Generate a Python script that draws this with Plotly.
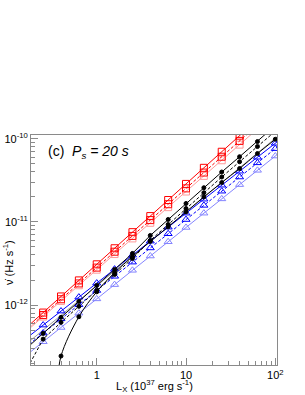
import plotly.graph_objects as go

# X grid (10^37 erg/s)
L = [0.1585, 0.2512, 0.3981, 0.631, 1.0, 1.585, 2.512, 3.981, 6.31, 10.0,
     15.85, 25.12, 39.81, 63.1, 100.0, 158.5]

# red group (i = -1 .. 12)
L_red = L[:14]
red_solid = [5.21e-13, 8.13e-13, 1.27e-12, 1.98e-12, 3.09e-12, 4.82e-12, 7.52e-12,
             1.174e-11, 1.832e-11, 2.859e-11, 4.462e-11, 6.962e-11, 1.086e-10, 1.696e-10]
red_dash = [4.89e-13, 7.59e-13, 1.175e-12, 1.82e-12, 2.82e-12, 4.38e-12, 6.78e-12,
            1.051e-11, 1.630e-11, 2.526e-11, 3.915e-11, 6.067e-11, 9.40e-11, 1.458e-10]
red_light = [4.72e-13, 7.28e-13, 1.122e-12, 1.730e-12, 2.664e-12, 4.106e-12, 6.327e-12,
             9.756e-12, 1.503e-11, 2.317e-11, 3.571e-11, 5.503e-11, 8.478e-11, 1.308e-10]

# black group (i = -1 .. 13)
L_blk = L[:15]
blk_solid = [2.94e-13, 4.57e-13, 7.12e-13, 1.108e-12, 1.724e-12, 2.683e-12, 4.176e-12,
             6.866e-12, 1.069e-11, 1.664e-11, 2.574e-11, 3.972e-11, 6.065e-11, 9.232e-11, 1.437e-10]
blk_dash = [1.57e-13, 3.90e-13, 6.20e-13, 9.65e-13, 1.502e-12, 2.336e-12, 3.636e-12,
            5.982e-12, 9.307e-12, 1.448e-11, 2.241e-11, 3.459e-11, 5.282e-11, 8.039e-11, 1.227e-10]
# curve with low-luminosity cut-off
L_cut = [0.365, 0.3981, 0.631, 1.0, 1.585, 2.512, 3.981, 6.31, 10.0, 15.85, 25.12,
         39.81, 63.1, 100.0, 158.5]
blk_cut = [1.2e-13, 2.44e-13, 7.24e-13, 1.444e-12, 2.456e-12, 3.822e-12, 5.818e-12,
           8.710e-12, 1.318e-11, 1.996e-11, 2.972e-11, 4.377e-11, 6.624e-11, 9.835e-11, 1.469e-10]
gray_line = [3.33e-13, 5.01e-13, 7.54e-13, 1.134e-12, 1.705e-12, 2.565e-12, 3.858e-12,
             5.803e-12, 8.730e-12, 1.313e-11, 1.975e-11, 2.972e-11, 4.471e-11, 6.724e-11,
             1.011e-10, 1.521e-10]

# blue group (i = -1 .. 14)
blue_solid = [3.90e-13, 5.75e-13, 8.47e-13, 1.247e-12, 1.837e-12, 2.705e-12, 3.983e-12,
              5.866e-12, 8.638e-12, 1.272e-11, 1.873e-11, 2.758e-11, 4.061e-11, 5.981e-11,
              8.807e-11, 1.297e-10]
blue_dash = [3.11e-13, 4.61e-13, 6.83e-13, 1.011e-12, 1.497e-12, 2.217e-12, 3.283e-12,
             4.861e-12, 7.198e-12, 1.066e-11, 1.578e-11, 2.337e-11, 3.459e-11, 5.123e-11,
             7.586e-11, 1.123e-10]
blue_light = [2.44e-13, 3.63e-13, 5.38e-13, 8.00e-13, 1.187e-12, 1.762e-12, 2.617e-12,
              3.886e-12, 5.769e-12, 8.567e-12, 1.272e-11, 1.889e-11, 2.804e-11, 4.164e-11,
              6.182e-11, 9.180e-11]

x_ticks = [1, 10, 100]
x_ticktext = ["1", "10", "10<sup>2</sup>"]
y_ticks = [1e-12, 1e-11, 1e-10]
y_ticktext = ["10<sup>-12</sup>", "10<sup>-11</sup>", "10<sup>-10</sup>"]
x_minor = [0.2, 0.3, 0.4, 0.5, 0.6, 0.7, 0.8, 0.9, 2, 3, 4, 5, 6, 7, 8, 9,
           20, 30, 40, 50, 60, 70, 80, 90]
y_minor = [m * 10.0 ** e for e in (-13, -12, -11) for m in range(2, 10)]

RED, PINK = "#ff0000", "#ff9a9a"
BLUE, LBLUE = "#0000ff", "#8484ff"
BLACK, GRAY = "#000000", "#9a9a9a"

fig = go.Figure()

def add(x, y, color, dash, symbol, msize, shape="linear"):
    fig.add_trace(go.Scatter(
        x=x, y=y, mode="lines+markers" if symbol else "lines",
        line=dict(color=color, width=1, dash=dash, shape=shape),
        marker=dict(symbol=symbol, size=msize, color=color,
                    line=dict(color=color, width=1)) if symbol else None,
        showlegend=False, hoverinfo="skip"))

add(L, gray_line, GRAY, "solid", None, 0)
add(L, blue_light, LBLUE, "solid", "triangle-up-open", 7)
add(L, blue_dash, BLUE, "3px,2px", "triangle-up-open", 7)
add(L, blue_solid, BLUE, "solid", "triangle-up-open", 7)
add(L_red, red_light, PINK, "solid", "square-open", 7)
add(L_red, red_dash, RED, "3px,2px", "square-open", 7)
add(L_red, red_solid, RED, "solid", "square-open", 7)
add(L_cut, blk_cut, BLACK, "solid", "circle", 4, "spline")
add(L_blk, blk_dash, BLACK, "3px,2px", "circle", 4)
add(L_blk, blk_solid, BLACK, "solid", "circle", 4)

FONT = "Liberation Sans, Arial, sans-serif"
axis_common = dict(type="log", showgrid=False, zeroline=False, showline=True,
                   linecolor="#8a8a8a", linewidth=1, mirror=True, automargin=False,
                   ticks="inside", ticklen=7, tickwidth=1, tickcolor="#8a8a8a",
                   tickmode="array", tickfont=dict(family=FONT, size=11, color="black"))

fig.update_layout(
    template="none",
    width=305, height=395,
    margin=dict(l=31, r=28, t=135, b=30),
    paper_bgcolor="white", plot_bgcolor="white",
    xaxis=dict(range=[-0.736, 2.019], tickvals=x_ticks, ticktext=x_ticktext,
               ticklabelstandoff=0,
               minor=dict(ticks="inside", ticklen=4, tickwidth=1, tickcolor="#8a8a8a",
                          tickmode="array", tickvals=x_minor, showgrid=False),
               **axis_common),
    yaxis=dict(range=[-12.72, -9.956], tickvals=y_ticks, ticktext=y_ticktext,
               minor=dict(ticks="inside", ticklen=4, tickwidth=1, tickcolor="#8a8a8a",
                          tickmode="array", tickvals=y_minor, showgrid=False),
               **axis_common),
    annotations=[
        dict(text="(c)  <i>P<sub>s</sub> = 20 s</i>", xref="paper", yref="paper",
             x=0.062, y=0.926, xanchor="left", yanchor="middle", showarrow=False,
             font=dict(family=FONT, size=14, color="black")),
        dict(text="\u03bd\u0307 (Hz s<sup>-1</sup>)", xref="paper", yref="paper",
             x=-0.0935, y=0.448, xanchor="center", yanchor="middle", textangle=-90,
             showarrow=False, font=dict(family=FONT, size=11, color="black")),
        dict(text="L<sub>X</sub> (10<sup>37</sup> erg s<sup>-1</sup>)", xref="paper",
             yref="paper", x=0.5, y=-0.093, xanchor="center", yanchor="middle",
             showarrow=False, font=dict(family=FONT, size=11, color="black")),
    ],
)

fig.write_html(
    "out.html",
    config={"displayModeBar": False},
    post_script="document.body.style.margin='0px'; document.body.style.overflow='hidden';",
)
